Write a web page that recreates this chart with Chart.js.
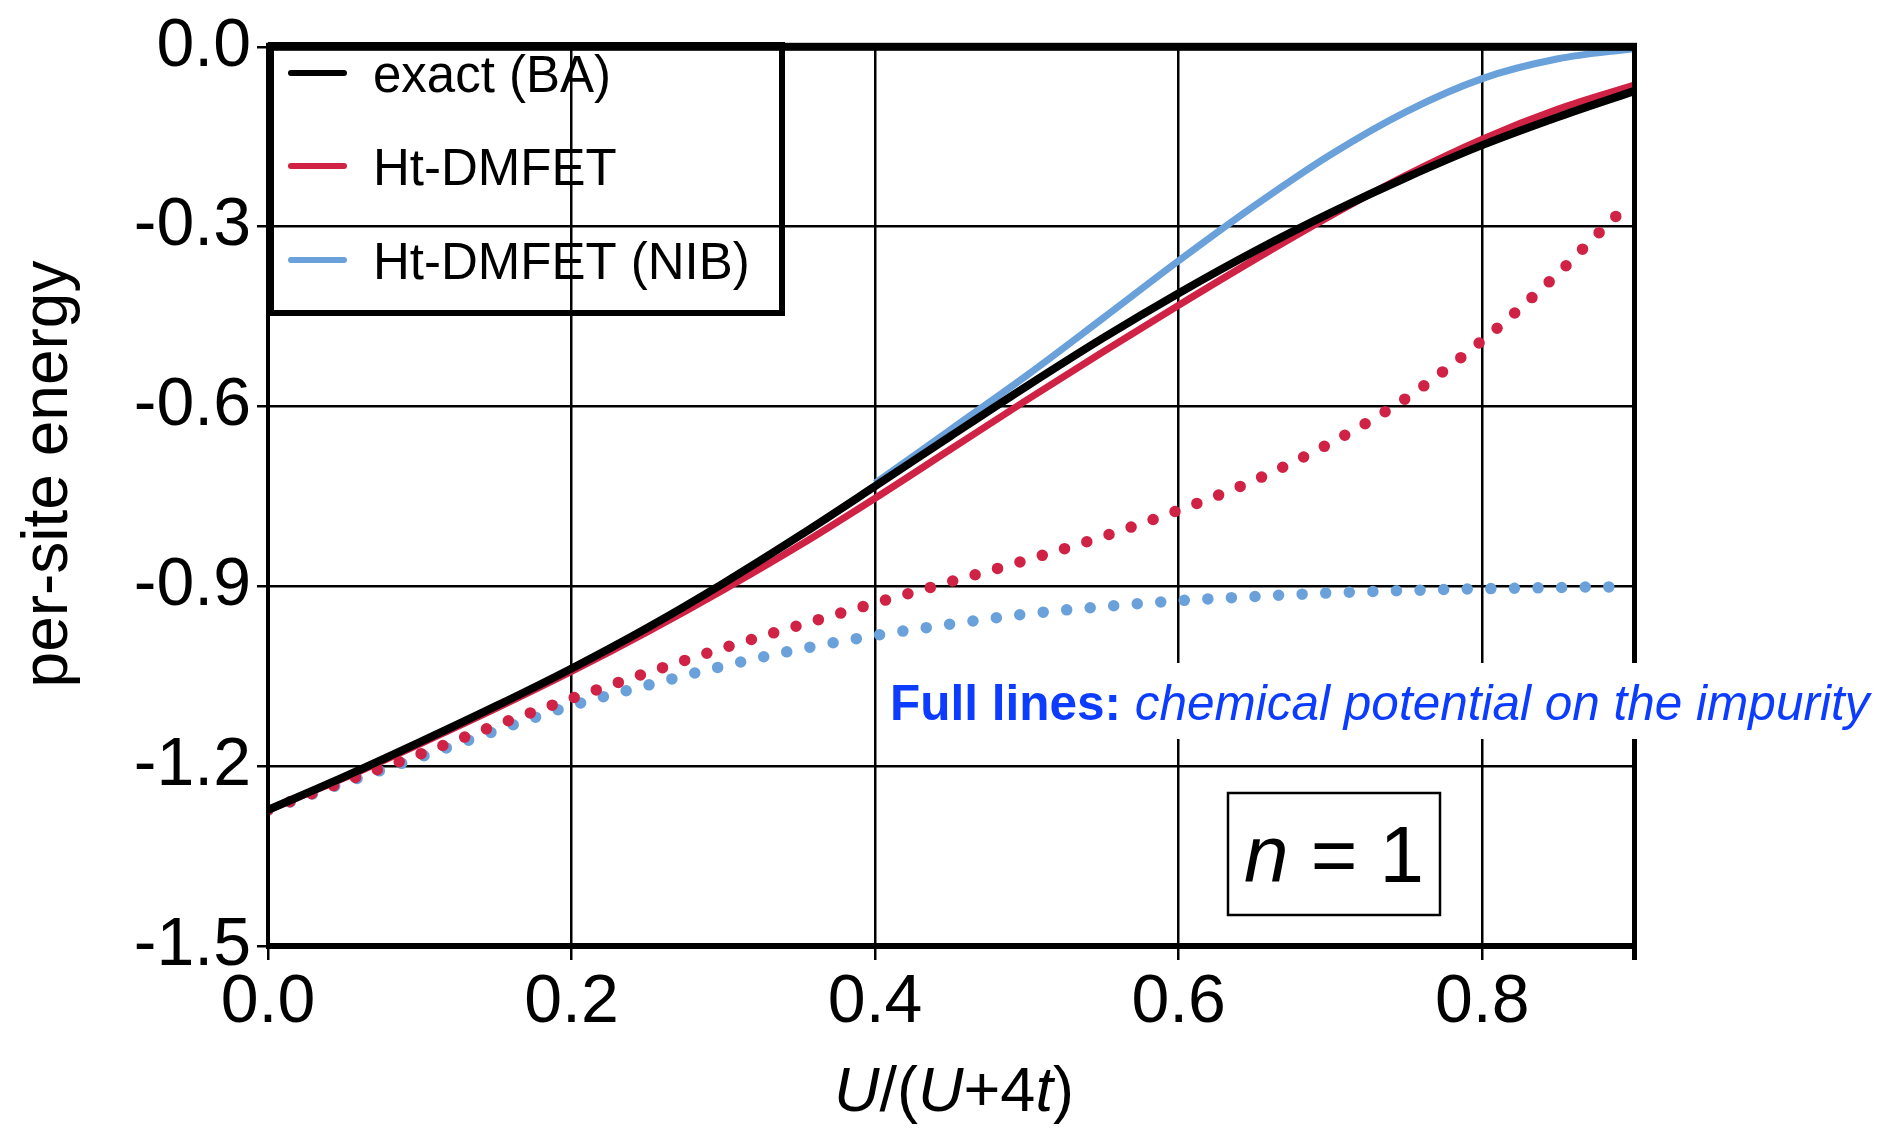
<!DOCTYPE html>
<html>
<head>
<meta charset="utf-8">
<title>per-site energy vs U/(U+4t)</title>
<script src="https://cdn.jsdelivr.net/npm/chart.js@4.4.1/dist/chart.umd.min.js"></script>
<style>
  html, body { margin: 0; padding: 0; background: #fff; }
  #wrap { width: 1895px; height: 1132px; }
</style>
</head>
<body>
<div id="wrap"><canvas id="chart" width="1895" height="1132"></canvas></div>
<script>
// values
var xFull = [0, 0.05, 0.10, 0.15, 0.20, 0.25, 0.30, 0.35, 0.40, 0.45, 0.50, 0.55, 0.60, 0.65, 0.70, 0.75, 0.80, 0.85, 0.90];
var exactBA = [-1.273, -1.218, -1.160, -1.100, -1.037, -0.969, -0.895, -0.816, -0.733, -0.649, -0.566, -0.486, -0.411, -0.341, -0.277, -0.218, -0.164, -0.117, -0.074];
var htDmfet = [-1.273, -1.220, -1.163, -1.104, -1.042, -0.976, -0.906, -0.832, -0.753, -0.671, -0.589, -0.509, -0.431, -0.355, -0.282, -0.214, -0.154, -0.104, -0.064];

var xNib = [0.40, 0.45, 0.50, 0.55, 0.60, 0.65, 0.70, 0.75, 0.80, 0.85, 0.90];
var htDmfetNib = [-0.728, -0.638, -0.548, -0.453, -0.357, -0.265, -0.180, -0.108, -0.053, -0.020, -0.003];

var xDot = [0, 0.05, 0.10, 0.15, 0.20, 0.25, 0.30, 0.35, 0.40, 0.45, 0.50, 0.55, 0.60, 0.65, 0.70, 0.75, 0.80, 0.825, 0.85, 0.875, 0.89];
var htDmfetDot = [-1.273, -1.226, -1.180, -1.132, -1.087, -1.044, -1.003, -0.965, -0.928, -0.892, -0.856, -0.817, -0.773, -0.723, -0.661, -0.586, -0.490, -0.436, -0.378, -0.315, -0.278];
var htDmfetNibDot = [-1.273, -1.228, -1.185, -1.141, -1.099, -1.065, -1.033, -1.005, -0.982, -0.963, -0.946, -0.934, -0.924, -0.917, -0.911, -0.907, -0.904, -0.903, -0.902, -0.901, -0.901];

var legendLabels = ['exact (BA)', 'Ht-DMFET', 'Ht-DMFET (NIB)'];

var RED = '#d02245';
var BLUE = '#6aa1da';
var TEXT_BLUE = '#0b3cff';
var FONT = "'Liberation Sans', Arial, Helvetica, sans-serif";

function pts(xs, ys) {
    return xs.map(function (x, i) { return { x: x, y: ys[i] }; });
}

var decor = {
    id: 'decor',
    afterDraw: function (chart) {
        var ctx = chart.ctx;
        var a = chart.chartArea;
        ctx.save();

        // frame
        ctx.fillStyle = '#000';
        ctx.fillRect(a.left - 2, a.top - 4, a.right - a.left + 5, 8);
        ctx.fillRect(a.left - 2, a.bottom - 3, a.right - a.left + 5, 6);
        ctx.fillRect(a.left - 2, a.top, 4, a.bottom - a.top);
        ctx.fillRect(a.right - 2, a.top, 5, a.bottom - a.top + 14);

        // note on white band
        ctx.fillStyle = '#fff';
        ctx.fillRect(885, 663, 1000, 76);
        ctx.textBaseline = 'alphabetic';
        ctx.textAlign = 'left';
        ctx.fillStyle = TEXT_BLUE;
        ctx.font = 'bold 49.5px ' + FONT;
        var t1 = 'Full lines: ';
        ctx.fillText(t1, 890, 720);
        var w1 = ctx.measureText(t1).width;
        ctx.font = 'italic 49.5px ' + FONT;
        ctx.fillText('chemical potential on the impurity', 890 + w1, 720);

        // legend
        ctx.strokeStyle = '#000';
        ctx.lineWidth = 6;
        ctx.strokeRect(271, 45, 511, 268);
        var rows = [73, 166, 260];
        var cols = ['#000', RED, BLUE];
        ctx.font = '51px ' + FONT;
        ctx.lineCap = 'round';
        for (var i = 0; i < rows.length; i++) {
            ctx.strokeStyle = cols[i];
            ctx.lineWidth = 6;
            ctx.beginPath();
            ctx.moveTo(291, rows[i]);
            ctx.lineTo(344, rows[i]);
            ctx.stroke();
            ctx.fillStyle = '#000';
            ctx.fillText(legendLabels[i], 373, rows[i] + 19);
        }

        // n = 1 box
        ctx.lineCap = 'butt';
        ctx.lineWidth = 2.5;
        ctx.strokeStyle = '#000';
        ctx.strokeRect(1228, 793, 212, 122);
        ctx.fillStyle = '#000';
        ctx.font = 'italic 80px ' + FONT;
        var wn = ctx.measureText('n').width;
        ctx.font = '80px ' + FONT;
        var wr = ctx.measureText(' = 1').width;
        var sx = 1334 - (wn + wr) / 2;
        ctx.font = 'italic 80px ' + FONT;
        ctx.fillText('n', sx, 882);
        ctx.font = '80px ' + FONT;
        ctx.fillText(' = 1', sx + wn, 882);

        // x title with italic U and t
        var parts = [['U', true], ['/(', false], ['U', true], ['+4', false], ['t', true], [')', false]];
        var total = 0;
        parts.forEach(function (p) {
            ctx.font = (p[1] ? 'italic ' : '') + '63px ' + FONT;
            p.push(ctx.measureText(p[0]).width);
            total += p[2];
        });
        var px = 954 - total / 2;
        parts.forEach(function (p) {
            ctx.font = (p[1] ? 'italic ' : '') + '63px ' + FONT;
            ctx.fillText(p[0], px, 1111);
            px += p[2];
        });

        // y title
        ctx.translate(67, 474);
        ctx.rotate(-Math.PI / 2);
        ctx.textAlign = 'center';
        ctx.font = '64px ' + FONT;
        ctx.fillText('per-site energy', 0, 0);

        ctx.restore();
    }
};

var ctx = document.getElementById('chart').getContext('2d');
var chart = new Chart(ctx, {
    type: 'line',
    data: {
        datasets: [
            { label: legendLabels[0], data: pts(xFull, exactBA), borderColor: '#000', borderWidth: 8 },
            { label: legendLabels[1], data: pts(xFull, htDmfet), borderColor: RED, borderWidth: 7 },
            { label: legendLabels[2], data: pts(xNib, htDmfetNib), borderColor: BLUE, borderWidth: 7 },
            { label: 'Ht-DMFET dotted', data: pts(xDot, htDmfetDot), borderColor: RED, borderWidth: 11.5,
              borderDash: [0, 23.3], borderCapStyle: 'round' },
            { label: 'Ht-DMFET (NIB) dotted', data: pts(xDot, htDmfetNibDot), borderColor: BLUE, borderWidth: 11.5,
              borderDash: [0, 23.6], borderCapStyle: 'round' }
        ]
    },
    options: {
        responsive: false,
        animation: false,
        layout: { padding: { top: 42, right: 261, left: 0, bottom: 0 } },
        elements: {
            point: { radius: 0 },
            line: { cubicInterpolationMode: 'monotone', fill: false, borderJoinStyle: 'round' }
        },
        plugins: { legend: { display: false }, tooltip: { enabled: false } },
        scales: {
            x: {
                type: 'linear', min: 0, max: 0.9,
                border: { display: false },
                grid: { color: '#000', lineWidth: 2.5, tickLength: 14 },
                ticks: {
                    stepSize: 0.2, includeBounds: false, maxRotation: 0, padding: 2,
                    color: '#000', font: { family: FONT, size: 68 },
                    callback: function (v) { return Math.abs(v).toFixed(1); }
                },
                afterFit: function (s) { s.height = 186; }
            },
            y: {
                type: 'linear', min: -1.5, max: 0,
                border: { display: false },
                grid: { color: '#000', lineWidth: 2.5, tickLength: 11 },
                ticks: {
                    stepSize: 0.3, padding: 6,
                    color: '#000', font: { family: FONT, size: 68 },
                    callback: function (v) { return Math.abs(v) < 1e-9 ? '0.0' : v.toFixed(1); }
                },
                afterFit: function (s) { s.width = 268; }
            }
        }
    },
    plugins: [decor]
});
</script>
</body>
</html>
